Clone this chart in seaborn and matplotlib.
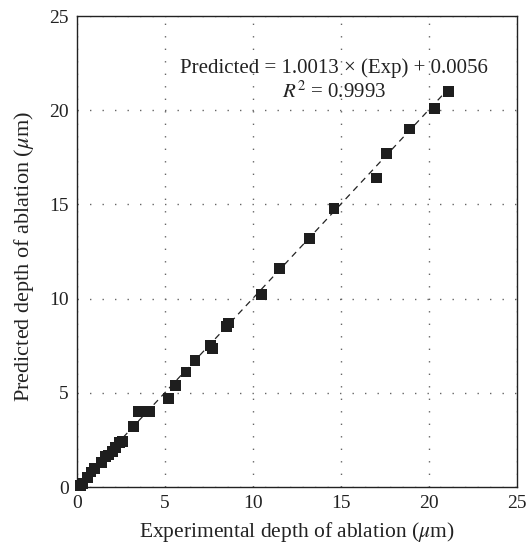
import numpy as np
import pandas as pd
import matplotlib
matplotlib.use("Agg")
import matplotlib.pyplot as plt
import seaborn as sns

# Experimental vs predicted depth of ablation (um)
exp_depth = [0.2, 0.3, 0.6, 0.8, 1.0, 1.4, 1.6, 1.8, 2.0, 2.2, 2.4, 2.6,
             3.2, 3.5, 3.8, 4.1, 5.2, 5.6, 6.2, 6.7, 7.6, 7.7, 8.5, 8.6,
             10.5, 11.5, 13.2, 14.6, 17.0, 17.6, 18.9, 20.3, 21.1]
pred_depth = [0.1, 0.2, 0.5, 0.8, 1.0, 1.3, 1.6, 1.7, 1.9, 2.1, 2.35, 2.4,
              3.2, 4.0, 4.0, 4.0, 4.7, 5.4, 6.1, 6.7, 7.5, 7.35, 8.5, 8.7,
              10.2, 11.6, 13.2, 14.8, 16.4, 17.7, 19.0, 20.1, 21.0]
slope = 1.0013
intercept = 0.0056
r_squared = 0.9993
ticks = [0, 5, 10, 15, 20, 25]


def main():
    df = pd.DataFrame({"exp": exp_depth, "pred": pred_depth})

    sns.set_style("white")
    plt.rcParams["font.family"] = ["Liberation Serif", "DejaVu Serif"]
    plt.rcParams["mathtext.fontset"] = "stix"

    fig = plt.figure(figsize=(5.32, 5.45), dpi=100)
    ax = fig.add_axes([0.1447, 0.1064, 0.8271, 0.8642])

    # fitted line over the data range
    xs = np.array([0.0, df["exp"].max()])
    ax.plot(xs, slope * xs + intercept, color="#222222", lw=0.9,
            ls=(0, (5, 4)), zorder=2)

    sns.scatterplot(data=df, x="exp", y="pred", marker="s", s=60,
                    color="#1e1e1e", edgecolor="none", ax=ax, zorder=3,
                    clip_on=False)

    ax.set_xlim(0, 25)
    ax.set_ylim(0, 25)
    ax.set_xticks(ticks)
    ax.set_yticks(ticks)
    ax.tick_params(length=0, labelsize=14, pad=6, colors="#222222")
    ax.grid(True, ls=(0, (1, 8)), color="#666666", lw=1.0)
    for sp in ax.spines.values():
        sp.set_color("#222222")
        sp.set_linewidth(1.0)

    ax.set_xlabel(r"Experimental depth of ablation ($\mu$m)", fontsize=15.5,
                  color="#222222")
    ax.set_ylabel(r"Predicted depth of ablation ($\mu$m)", fontsize=16,
                  color="#222222")
    ax.xaxis.set_label_coords(0.5, -0.07)
    ax.yaxis.set_label_coords(-0.093, 0.49)

    ax.text(14.6, 22.25, f"Predicted = {slope:.4f} \u00d7 (Exp) + {intercept:.4f}",
            ha="center", va="center", fontsize=15, color="#222222")
    ax.text(14.6, 20.95, f"$R^2$ = {r_squared:.4f}",
            ha="center", va="center", fontsize=15, color="#222222")

    fig.savefig("out.png", dpi=100)
    plt.close(fig)


if __name__ == "__main__":
    main()
